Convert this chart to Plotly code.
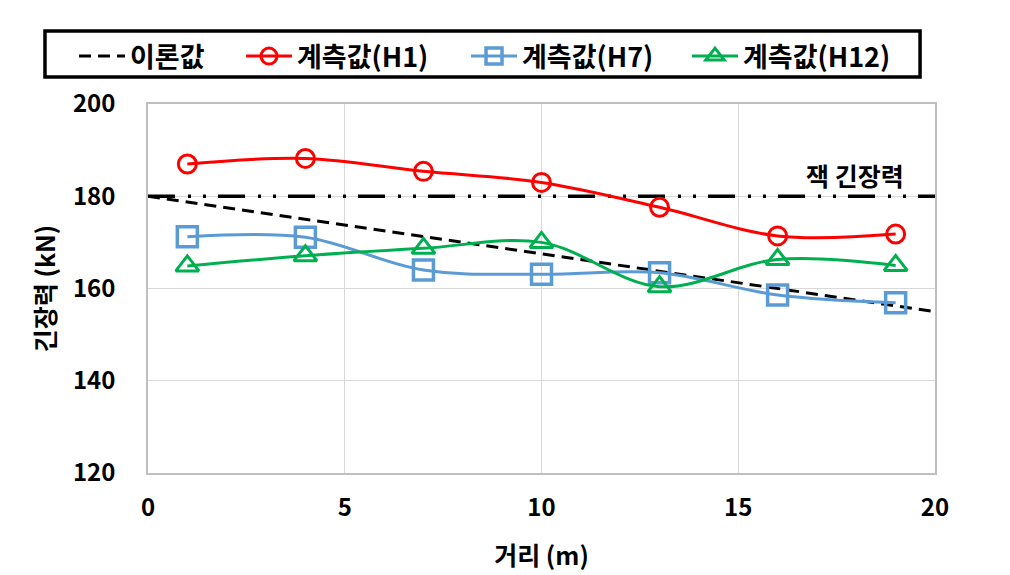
import plotly.graph_objects as go

x_pts = [1, 4, 7, 10, 13, 16, 19]
h1 = [187.0, 188.2, 185.4, 183.0, 177.6, 171.4, 171.8]
h7 = [171.2, 171.1, 164.0, 163.1, 163.4, 158.6, 156.9]
h12 = [164.9, 167.1, 168.7, 170.0, 160.4, 166.3, 165.0]
theory_x = [0, 20]
theory_y = [180.0, 155.0]
jack_x = [0, 20]
jack_y = [180.0, 180.0]
x_ticks = [0, 5, 10, 15, 20]
y_ticks = [120, 140, 160, 180, 200]

FONT = "Noto Sans CJK KR"
FS = 24
LFS = 27

fig = go.Figure()
fig.add_trace(go.Scatter(x=jack_x, y=jack_y, mode="lines", showlegend=False,
                         line=dict(color="black", width=3.5, dash="27px,13px,3px,12px,3px,12px")))
fig.add_trace(go.Scatter(x=theory_x, y=theory_y, mode="lines", name="<b>이론값</b>", legendwidth=106,
                         line=dict(color="black", width=3, dash="12px,7px")))
fig.add_trace(go.Scatter(x=x_pts, y=h1, mode="lines+markers", name="<b>계측값(H1)</b>", legendwidth=164,
                         line=dict(color="#FF0000", width=3, shape="spline"),
                         marker=dict(symbol="circle-open", size=18, line=dict(width=3, color="#FF0000"))))
fig.add_trace(go.Scatter(x=x_pts, y=h7, mode="lines+markers", name="<b>계측값(H7)</b>", legendwidth=160,
                         line=dict(color="#5B9BD5", width=3, shape="spline"),
                         marker=dict(symbol="square-open", size=20, line=dict(width=3.5, color="#5B9BD5"))))
fig.add_trace(go.Scatter(x=x_pts, y=h12, mode="lines+markers", name="<b>계측값(H12)</b>", legendwidth=150,
                         line=dict(color="#00B050", width=3, shape="spline"),
                         marker=dict(symbol="triangle-up-open", size=20, line=dict(width=3, color="#00B050"))))

fig.add_annotation(x=17.97, y=180, yref="y", xref="x", text="<b>잭 긴장력</b>", showarrow=False,
                   yanchor="bottom", yshift=1, font=dict(family=FONT, size=25, color="black"))

# legend frame
fig.add_shape(type="rect", xref="paper", yref="paper",
              x0=-0.1309, x1=0.9810, y0=1.0732, y1=1.1978,
              line=dict(color="black", width=3.5), fillcolor="rgba(0,0,0,0)")

fig.update_layout(
    width=1010, height=575,
    margin=dict(l=148, r=75, t=104, b=102, autoexpand=False),
    paper_bgcolor="white", plot_bgcolor="white",
    font=dict(family=FONT, size=FS, color="black"),
    legend=dict(orientation="h", x=-0.094, y=1.195, xanchor="left", yanchor="top",
                borderwidth=0, bgcolor="rgba(0,0,0,0)", itemwidth=46,
                font=dict(family=FONT, size=LFS, color="black")),
    showlegend=True,
)
fig.update_xaxes(range=[0, 20], tickvals=x_ticks, ticktext=[f"<b>{v}</b>" for v in x_ticks],
                 showgrid=True, gridcolor="#D9D9D9", gridwidth=1.3, automargin=False,
                 showline=True, linecolor="#BFBFBF", linewidth=1.5, mirror=True, zeroline=False,
                 title=dict(text="<b>거리 (m)</b>", font=dict(family=FONT, size=25), standoff=26),
                 ticks="", ticklabelstandoff=12)
fig.update_yaxes(range=[120, 200], tickvals=y_ticks, ticktext=[f"<b>{v}</b>" for v in y_ticks],
                 showgrid=True, gridcolor="#D9D9D9", gridwidth=1.3, automargin=False,
                 showline=True, linecolor="#BFBFBF", linewidth=1.5, mirror=True, zeroline=False,
                 title=dict(text="<b>긴장력 (kN)</b>", font=dict(family=FONT, size=25), standoff=10),
                 ticks="", ticklabelstandoff=26)

fig.write_html("out.html")
